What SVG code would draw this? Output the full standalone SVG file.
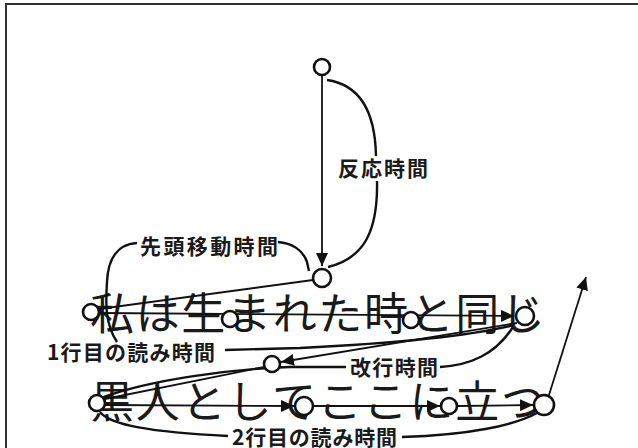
<svg xmlns="http://www.w3.org/2000/svg" width="638" height="448" viewBox="0 0 638 448">
<style>
.big{font-family:"Noto Sans CJK JP","Noto Sans CJK SC",sans-serif;font-size:44px;fill:#1a1a1a}
.lbl{font-family:"Noto Sans CJK JP","Noto Sans CJK SC",sans-serif;font-size:21px;font-weight:bold;fill:#1a1a1a}
.c{fill:#fff;stroke:#111;stroke-width:2.6}
.ln{fill:none;stroke:#111;stroke-width:1.8}
.br{fill:none;stroke:#111;stroke-width:2.4}
</style>
<defs>
<marker id="ah" markerUnits="userSpaceOnUse" markerWidth="14" markerHeight="12" refX="13" refY="6" orient="auto">
<path d="M0,0 L13,6 L0,12 z" fill="#111"/>
</marker>
</defs>
<rect width="638" height="448" fill="#fff"/>
<path d="M6,448 V4 H638" fill="none" stroke="#333" stroke-width="2"/>
<g id="text-lines">
<text class="big" x="90" y="330" textLength="455" lengthAdjust="spacing">私は生まれた時と同じ</text>
<text class="big" x="90" y="418" textLength="455" lengthAdjust="spacing">黒人としてここに立つ</text>
</g>
<g id="labels">
<text class="lbl" x="338" y="176" textLength="90" lengthAdjust="spacing">反応時間</text>
<text class="lbl" x="140" y="254" textLength="138" lengthAdjust="spacing">先頭移動時間</text>
<text class="lbl" x="47" y="360" textLength="168" lengthAdjust="spacing">1行目の読み時間</text>
<text class="lbl" x="350" y="375" textLength="88" lengthAdjust="spacing">改行時間</text>
<text class="lbl" x="232" y="445" textLength="165" lengthAdjust="spacing">2行目の読み時間</text>
</g>
<g id="connectors">
<path class="ln" d="M322,76 V266" marker-end="url(#ah)"/>
<path class="br" d="M327,80 C355,84 375,105 376,156"/>
<path class="br" d="M377,181 C378,230 365,258 328,267"/>
<path class="br" d="M137,243 C118,244 108,258 107,282 C106,300 104,322 117,342"/>
<path class="br" d="M278,242 C292,243 303,250 307,262 L309,271"/>
<path class="ln" d="M313,280 L99,309"/>
<path class="ln" d="M99,313 L514,316" marker-end="url(#ah)"/>
<path class="ln" d="M517,323 L281,362" marker-end="url(#ah)"/>
<path class="br" d="M225,350 L300,348 C400,343 470,336 514,325"/>
<path class="br" d="M346,367 L290,367 C230,369 150,380 104,397"/>
<path class="ln" d="M264,367 L105,399"/>
<path class="br" d="M440,367 C470,365 495,355 513,327"/>
<path class="ln" d="M105,405 L294,406" marker-end="url(#ah)"/>
<path class="ln" d="M313,406 L440,406" marker-end="url(#ah)"/>
<path class="ln" d="M458,406 L533,405" marker-end="url(#ah)"/>
<path class="br" d="M100,412 C110,425 150,432 228,436"/>
<path class="br" d="M402,437 C470,435 515,425 537,413"/>
<path class="ln" d="M549,395 L586,277" marker-end="url(#ah)"/>
</g>
<g id="n-top"><circle class="c" cx="322" cy="67" r="8"/></g>
<g id="n-start"><circle class="c" cx="322" cy="278" r="9"/></g>
<g id="n-l1a"><circle class="c" cx="91" cy="312" r="8"/></g>
<g id="n-l1b"><circle class="c" cx="230" cy="319" r="8"/></g>
<g id="n-l1c"><circle class="c" cx="411" cy="320" r="8"/></g>
<g id="n-l1d"><circle class="c" cx="525" cy="316" r="9"/></g>
<g id="n-mid"><circle class="c" cx="272" cy="364" r="8"/></g>
<g id="n-l2a"><circle class="c" cx="97" cy="403" r="8"/></g>
<g id="n-l2b"><circle class="c" cx="304" cy="406" r="9"/></g>
<g id="n-l2c"><circle class="c" cx="449" cy="406" r="8"/></g>
<g id="n-l2d"><circle class="c" cx="544" cy="405" r="10"/></g>
</svg>
